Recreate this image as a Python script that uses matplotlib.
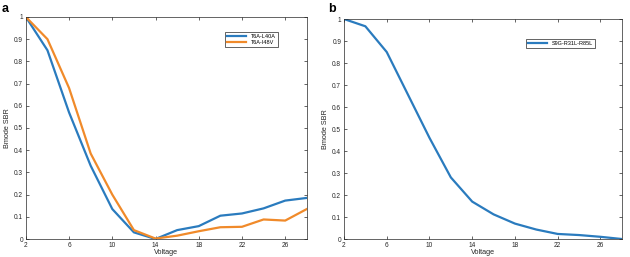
import matplotlib
matplotlib.use("Agg")
import matplotlib.pyplot as plt

voltage = [2, 4, 6, 8, 10, 12, 14, 16, 18, 20, 22, 24, 26, 28]
t6a_l40a = [1.0, 0.85, 0.57, 0.33, 0.135, 0.03, 0.0, 0.04, 0.058, 0.105, 0.115, 0.138, 0.173, 0.185]
t6a_i48v = [1.0, 0.90, 0.68, 0.385, 0.20, 0.04, 0.002, 0.015, 0.035, 0.053, 0.055, 0.088, 0.083, 0.135]
s9g_r31l_r85l = [1.0, 0.967, 0.85, 0.655, 0.46, 0.28, 0.17, 0.112, 0.07, 0.043, 0.023, 0.018, 0.01, 0.0]
xticks = [2, 6, 10, 14, 18, 22, 26]
yticks = [0, 0.1, 0.2, 0.3, 0.4, 0.5, 0.6, 0.7, 0.8, 0.9, 1]
ytlabels = ["0", "0.1", "0.2", "0.3", "0.4", "0.5", "0.6", "0.7", "0.8", "0.9", "1"]

BLUE = "#2A7BBE"
ORANGE = "#F08A2A"
plt.rcParams.update({"font.family": "Liberation Sans", "font.size": 4.5})

fig = plt.figure(figsize=(6.3, 2.57), dpi=100)
axa = fig.add_axes([0.041, 0.070, 0.446, 0.864])
axb = fig.add_axes([0.546, 0.070, 0.441, 0.856])

def style(ax):
    ax.set_xlim(2, 28); ax.set_ylim(0, 1)
    ax.set_xticks(xticks); ax.set_yticks(yticks); ax.set_yticklabels(ytlabels)
    ax.tick_params(direction="in", top=True, right=True, length=2.5, width=0.5,
                   labelsize=4.7, colors="#262626", pad=2)
    for s in ax.spines.values():
        s.set_linewidth(0.5); s.set_color("#262626")
    ax.set_xlabel("Voltage", fontsize=5.2, labelpad=0.5, color="#262626")
    ax.set_ylabel("Bmode SBR", fontsize=5.2, labelpad=2, color="#262626")

axa.plot(voltage, t6a_l40a, color=BLUE, lw=1.6, label="T6A-L40A")
axa.plot(voltage, t6a_i48v, color=ORANGE, lw=1.6, label="T6A-I48V")
style(axa)
axa.legend(loc="upper right", bbox_to_anchor=(0.907, 0.946), fontsize=4, fancybox=False,
           edgecolor="#262626", framealpha=1, handlelength=3.5, borderpad=0.4,
           labelspacing=0.2, handletextpad=0.8).get_frame().set_linewidth(0.5)

axb.plot(voltage, s9g_r31l_r85l, color=BLUE, lw=1.6, label="S9G-R31L-R85L")
style(axb)
axb.legend(loc="upper right", bbox_to_anchor=(0.914, 0.923), fontsize=4, fancybox=False,
           edgecolor="#262626", framealpha=1, handlelength=3.5, borderpad=0.4,
           handletextpad=0.8).get_frame().set_linewidth(0.5)

fig.text(0.002, 0.99, "a", fontsize=9, fontweight="bold", va="top", ha="left")
fig.text(0.521, 0.99, "b", fontsize=9, fontweight="bold", va="top", ha="left")

fig.savefig("out.png", dpi=100)
